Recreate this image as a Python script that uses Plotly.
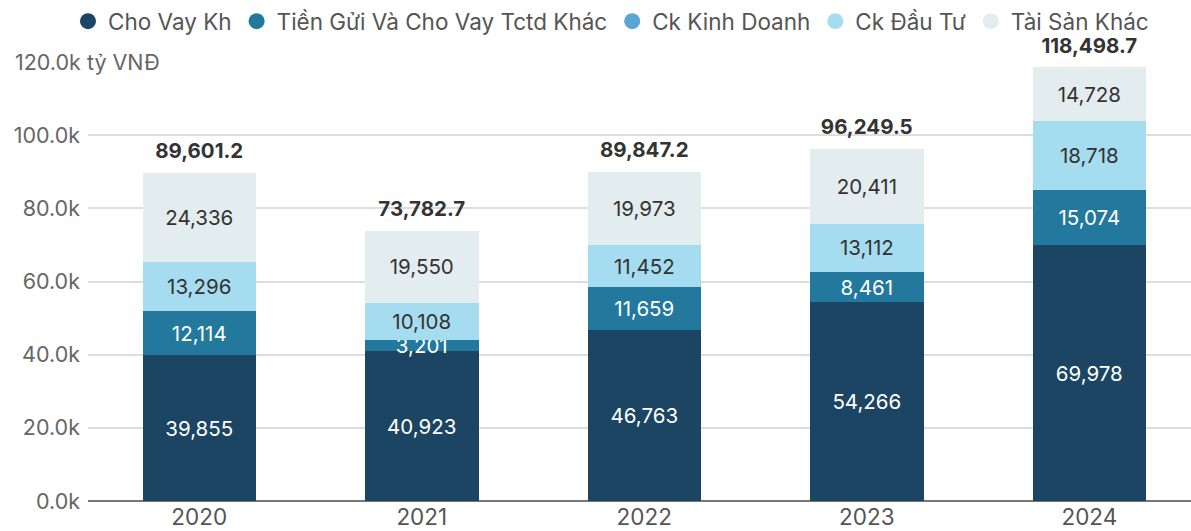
import plotly.graph_objects as go

years = ["2020", "2021", "2022", "2023", "2024"]
cho_vay_kh = [39855, 40923, 46763, 54266, 69978]
tien_gui_tctd = [12114, 3201, 11659, 8461, 15074]
ck_kinh_doanh = [0, 0, 0, 0, 0]
ck_dau_tu = [13296, 10108, 11452, 13112, 18718]
tai_san_khac = [24336, 19550, 19973, 20411, 14728]
totals = [89601.2, 73782.7, 89847.2, 96249.5, 118498.7]

tick_vals = [0, 20000, 40000, 60000, 80000, 100000, 120000]
tick_text = ["0.0k", "20.0k", "40.0k", "60.0k", "80.0k", "100.0k", ""]
top_label = "120.0k tỷ VNĐ"

series = [
    ("Cho Vay Kh", cho_vay_kh, "#1b4562", "white"),
    ("Tiền Gửi Và Cho Vay Tctd Khác", tien_gui_tctd, "#23789d", "white"),
    ("Ck Kinh Doanh", ck_kinh_doanh, "#5ba5d2", "white"),
    ("Ck Đầu Tư", ck_dau_tu, "#a6dcef", "#333333"),
    ("Tài Sản Khác", tai_san_khac, "#e3ecef", "#333333"),
]

FONT = "Inter, Roboto, sans-serif"
fig = go.Figure()
for name, vals, color, tcol in series:
    txt = [f"{v:,.0f}" if v > 0 else "" for v in vals]
    fig.add_trace(go.Bar(
        x=years, y=vals, name=name, marker=dict(color=color, line=dict(width=0)),
        text=txt, textposition="inside", insidetextanchor="middle",
        textfont=dict(color=tcol, size=20.5, family=FONT),
        showlegend=False, hoverinfo="skip",
    ))
for name, vals, color, tcol in series:
    fig.add_trace(go.Scatter(
        x=[None], y=[None], mode="markers", name=name,
        marker=dict(color=color, size=24, symbol="circle"),
        showlegend=True,
    ))

fig.add_trace(go.Scatter(
    x=years, y=totals, mode="markers+text",
    marker=dict(size=14, opacity=0),
    text=[f"<b>{t:,.1f}</b>" for t in totals],
    textposition="top center",
    textfont=dict(color="#333333", size=20.5, family=FONT),
    showlegend=False, cliponaxis=False, hoverinfo="skip",
))

fig.add_annotation(
    xref="paper", yref="y", x=(10 - 88) / 1103, y=120000,
    xanchor="left", yanchor="middle", text=top_label, showarrow=False,
    font=dict(size=21.5, color="#666666", family=FONT),
    bgcolor="white", borderpad=4,
)

fig.update_layout(
    width=1191, height=531,
    margin=dict(l=88, r=0, t=61, b=30, autoexpand=False),
    barmode="stack", bargap=0.49,
    plot_bgcolor="white", paper_bgcolor="white",
    font=dict(family=FONT, color="#555555"),
    uniformtext=dict(minsize=20.5, mode="show"),
    legend=dict(
        orientation="h", xref="container", x=0.513, xanchor="center",
        yref="container", y=1.0, yanchor="top", traceorder="normal",
        font=dict(size=22.5, color="#555555", family=FONT),
        itemsizing="trace", tracegroupgap=0,
        bgcolor="rgba(0,0,0,0)",
    ),
    xaxis=dict(
        type="category", range=[-0.5, 4.457], showgrid=False, automargin=False,
        tickfont=dict(size=22.5, color="#555555", family=FONT),
        ticks="", showline=False,
    ),
    yaxis=dict(
        range=[0, 120273], tickvals=tick_vals, ticktext=tick_text, automargin=False,
        showgrid=True, gridcolor="#dddddd", gridwidth=1.5,
        zeroline=True, zerolinecolor="#777777", zerolinewidth=2,
        tickfont=dict(size=21.5, color="#666666", family=FONT),
        ticks="", ticklabelstandoff=7,
    ),
)

fig.write_html(
    "out.html",
    config={"displayModeBar": False},
    post_script="document.body.style.margin='0';document.body.style.padding='0';",
)
